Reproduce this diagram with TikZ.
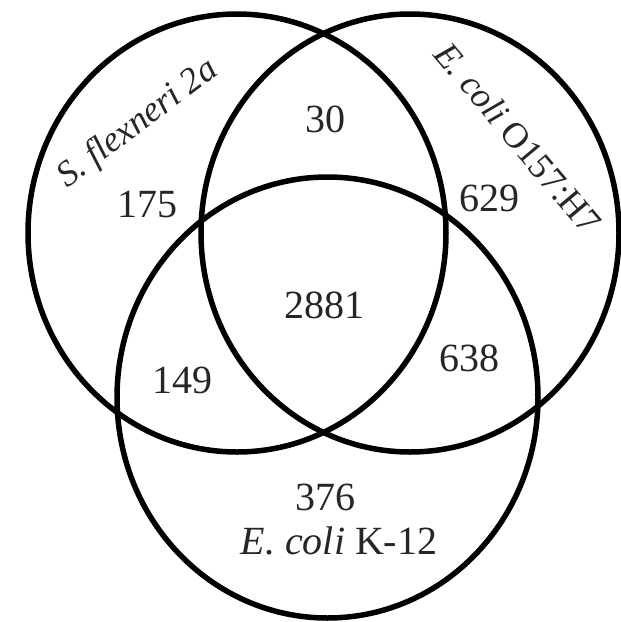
\documentclass[tikz,border=0pt]{standalone}
\usepackage{fontspec}
\setmainfont{Liberation Serif}
\begin{document}
\begin{tikzpicture}[x=1pt,y=-1pt,
  ring/.style={line width=5.5pt, draw=black},
  lbl/.style={font=\fontsize{40}{48}\selectfont, inner sep=0pt, text=black!85},
  slbl/.style={font=\fontsize{36}{44}\selectfont, inner sep=0pt, text=black!85}]
\useasboundingbox (0,0) rectangle (621,622);
% sets
\draw[ring] (237,233) ellipse [x radius=209pt, y radius=219pt];
\draw[ring] (410,233) ellipse [x radius=209pt, y radius=219pt];
\draw[ring] (327.5,397.5) ellipse [x radius=210.5pt, y radius=220.5pt];
% counts
\node[lbl] (n30)   at (325,119) {30};
\node[lbl] (n175)  at (147,204) {175};
\node[lbl] (n629)  at (489,198) {629};
\node[lbl] (n2881) at (324,305) {2881};
\node[lbl] (n149)  at (182,380) {149};
\node[lbl] (n638)  at (469,358) {638};
\node[lbl] (n376)  at (325,497) {376};
% set names
\node[slbl, rotate=37]  (sf)  at (138,124) {\itshape S. flexneri 2a};
\node[slbl, rotate=-50] (eo)  at (518,138) {\textit{E. coli} O157:H7};
\node[lbl]              (ek)  at (339,541) {\textit{E. coli} K-12};
\end{tikzpicture}
\end{document}
